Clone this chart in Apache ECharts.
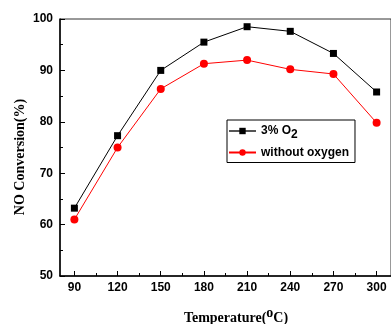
<!DOCTYPE html>
<html><head><meta charset="utf-8">
<script src="https://cdn.jsdelivr.net/npm/echarts@6/dist/echarts.min.js"></script>
<style>html,body{margin:0;padding:0;background:#fff}#c{width:391px;height:324px}</style>
</head><body><div id="c"></div>
<script>
const temps = [90, 120, 150, 180, 210, 240, 270, 300];
const withO2 = [63.2, 77.3, 90.0, 95.5, 98.5, 97.6, 93.3, 85.8];
const withoutO2 = [61.0, 75.0, 86.4, 91.3, 92.0, 90.2, 89.3, 79.8];
const xMajorTicks = [90, 120, 150, 180, 210, 240, 270, 300];
const xMinorTicks = [105, 135, 165, 195, 225, 255, 285];
const seriesNames = ['3% O2', 'without oxygen'];

const chart = echarts.init(document.getElementById('c'), null, {renderer: 'canvas'});
const lab = {fontFamily: 'Liberation Sans, Arial', fontWeight: 'bold', fontSize: 12, color: '#000'};
const xCommon = {type: 'value', min: 80, max: 310, gridIndex: 0};
chart.setOption({
  animation: false,
  grid: {left: 60, top: 19, width: 336, height: 257, show: true, borderColor: '#333', borderWidth: 1, backgroundColor: 'transparent'},
  xAxis: [
    Object.assign({}, xCommon, {
      axisLine: {onZero: false, lineStyle: {color: '#000', width: 1.5}},
      axisTick: {inside: true, length: 5, customValues: xMajorTicks, lineStyle: {color: '#000'}},
      axisLabel: Object.assign({margin: 6, customValues: xMajorTicks}, lab),
      splitLine: {show: false}
    }),
    Object.assign({}, xCommon, {
      position: 'bottom',
      axisLine: {show: false},
      axisTick: {inside: true, length: 3, customValues: xMinorTicks, lineStyle: {color: '#000'}},
      axisLabel: {show: false},
      splitLine: {show: false}
    })
  ],
  yAxis: {
    type: 'value', min: 50, max: 100, interval: 10,
    axisLine: {show: true, lineStyle: {color: '#000', width: 1.5}},
    axisTick: {inside: true, length: 5, lineStyle: {color: '#000'}},
    minorTick: {show: true, splitNumber: 2, length: 3, lineStyle: {color: '#000'}},
    axisLabel: Object.assign({margin: 7}, lab),
    splitLine: {show: false}
  },
  legend: {
    left: 227, top: 120, orient: 'vertical',
    itemWidth: 27, itemHeight: 8, itemGap: 6,
    padding: [5, 6, 4, 1],
    borderColor: '#000', borderWidth: 1,
    data: [{name: seriesNames[0], lineStyle: {color: '#555'}}, {name: seriesNames[1]}],
    formatter: function (n) { return n === '3% O2' ? '3% O{sub|2}' : n; },
    textStyle: {
      fontFamily: 'Liberation Sans, Arial', fontWeight: 'bold', fontSize: 12, color: '#000',
      rich: {sub: {fontFamily: 'Liberation Sans, Arial', fontWeight: 'bold', fontSize: 12, color: '#000', padding: [7, 0, 0, 0]}}
    }
  },
  graphic: [
    {type: 'text', x: 236, y: 318, style: {
      text: 'Temperature({sup|o}C)', align: 'center', verticalAlign: 'middle',
      font: 'bold 14px "Liberation Serif", "Times New Roman", serif', fill: '#000',
      rich: {sup: {font: 'bold 14px "Liberation Serif", serif', fill: '#000', padding: [0, 0, 9, 0]}}
    }},
    {type: 'text', x: 20, y: 157, rotation: Math.PI / 2, style: {
      text: 'NO Conversion(%)', align: 'center', verticalAlign: 'middle',
      font: 'bold 14px "Liberation Serif", "Times New Roman", serif', fill: '#000'
    }}
  ],
  series: [
    {name: seriesNames[0], type: 'line', xAxisIndex: 0,
     data: temps.map((t, i) => [t, withO2[i]]),
     symbol: 'rect', symbolSize: 7, itemStyle: {color: '#000'},
     lineStyle: {color: '#000', width: 1}},
    {name: seriesNames[1], type: 'line', xAxisIndex: 0,
     data: temps.map((t, i) => [t, withoutO2[i]]),
     symbol: 'circle', symbolSize: 8, itemStyle: {color: '#ff0000'},
     lineStyle: {color: '#ff0000', width: 1}}
  ]
});
</script></body></html>
